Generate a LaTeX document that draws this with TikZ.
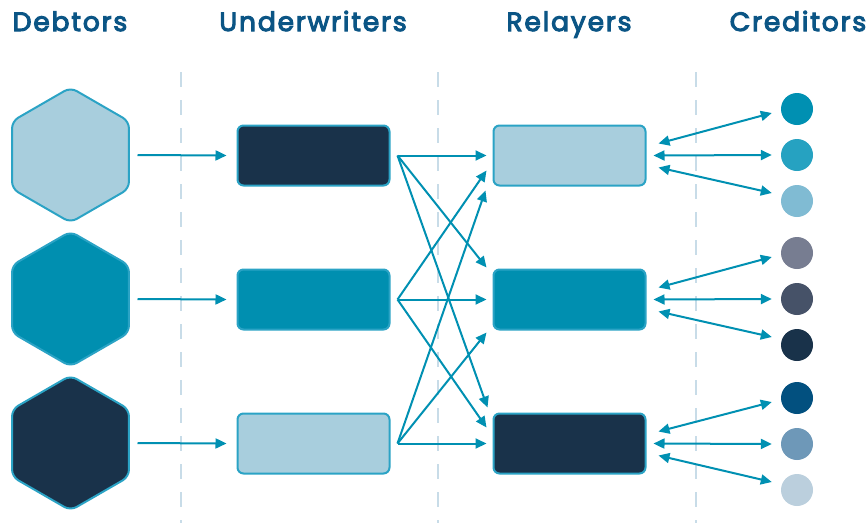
\documentclass[tikz,border=0pt]{standalone}
\usepackage{fontspec}
\setmainfont{Fira Sans}
\newfontfamily\titlefont{Poppins}[FakeBold=4,LetterSpace=7]
\usetikzlibrary{shapes.geometric,arrows.meta,calc}
\definecolor{clight}{HTML}{A8CEDD}
\definecolor{cmid}{HTML}{008FB0}
\definecolor{cdark}{HTML}{19324A}
\definecolor{cborder}{HTML}{2BA3C5}
\definecolor{carrow}{HTML}{0090B2}
\definecolor{cdash}{HTML}{C8DCE8}
\definecolor{ctitle}{HTML}{0B5585}
\definecolor{ca1}{HTML}{0090B2}
\definecolor{ca2}{HTML}{26A2C1}
\definecolor{ca3}{HTML}{80BBD3}
\definecolor{cb1}{HTML}{777D91}
\definecolor{cb2}{HTML}{465268}
\definecolor{cb3}{HTML}{19324A}
\definecolor{cc1}{HTML}{02507F}
\definecolor{cc2}{HTML}{6E98B8}
\definecolor{cc3}{HTML}{BBCFDD}
\begin{document}
\begin{tikzpicture}[x=1pt,y=-1pt,
  title/.style={text=ctitle,font=\titlefont\fontsize{26.5}{30}\selectfont,anchor=base,inner sep=0pt},
  hexnode/.style={regular polygon,regular polygon sides=6,shape border rotate=30,minimum size=135pt,inner sep=0pt,draw=cborder,line width=2pt,rounded corners=7pt},
  boxnode/.style={rectangle,minimum width=152pt,minimum height=60pt,inner sep=0pt,draw=cborder,line width=2pt,rounded corners=6pt},
  dot/.style={circle,minimum size=32pt,inner sep=0pt},
  sepline/.style={draw=cdash,line width=2.5pt,dash pattern=on 15pt off 13pt},
  conn/.style={draw=carrow,line width=2pt,-{Triangle[length=11pt,width=10pt]}},
  dconn/.style={draw=carrow,line width=2pt,{Triangle[length=11pt,width=10pt]}-{Triangle[length=11pt,width=10pt]}}
]
\useasboundingbox (0,0) rectangle (867,523);
% titles
\node[title] (t1) at (70,31) {Debtors};
\node[title] (t2) at (313,31) {Underwriters};
\node[title] (t3) at (569,31) {Relayers};
\node[title] (t4) at (798,31) {Creditors};
% separators
\coordinate (s1a) at (181,72); \coordinate (s1b) at (181,523);
\coordinate (s2a) at (438,72); \coordinate (s2b) at (438,523);
\coordinate (s3a) at (696,72); \coordinate (s3b) at (696,523);
\path[sepline] (s1a) -- (s1b);
\path[sepline] (s2a) -- (s2b);
\path[sepline] (s3a) -- (s3b);
% debtors
\node[hexnode,fill=clight] (h1) at (70.5,155) {};
\node[hexnode,fill=cmid] (h2) at (70.5,299) {};
\node[hexnode,fill=cdark] (h3) at (70.5,443) {};
% underwriters
\node[boxnode,fill=cdark] (u1) at (313.5,155.5) {};
\node[boxnode,fill=cmid] (u2) at (313.5,299.5) {};
\node[boxnode,fill=clight] (u3) at (313.5,443.5) {};
% relayers
\node[boxnode,fill=clight] (r1) at (569.5,155.5) {};
\node[boxnode,fill=cmid] (r2) at (569.5,299.5) {};
\node[boxnode,fill=cdark] (r3) at (569.5,443.5) {};
% creditors
\node[dot,fill=ca1] (c11) at (797,109) {};
\node[dot,fill=ca2] (c12) at (797,155) {};
\node[dot,fill=ca3] (c13) at (797,201) {};
\node[dot,fill=cb1] (c21) at (797,253) {};
\node[dot,fill=cb2] (c22) at (797,299) {};
\node[dot,fill=cb3] (c23) at (797,345) {};
\node[dot,fill=cc1] (c31) at (797,398) {};
\node[dot,fill=cc2] (c32) at (797,444) {};
\node[dot,fill=cc3] (c33) at (797,490) {};
% debtors -> underwriters
\foreach \i in {1,2,3}{
  \path[conn] ($(h\i.center)+(67,0)$) -- ($(u\i.west)+(-10,0)$);
}
% underwriters -> relayers
\path[conn] ($(u1.east)+(7,0)$) -- ($(r1.west)+(-6,0)$);
\path[conn] ($(u1.east)+(7,0)$) -- ($(r2.west)+(-6,-32)$);
\path[conn] ($(u1.east)+(7,0)$) -- ($(r3.west)+(-5,-36)$);
\path[conn] ($(u2.east)+(7,0)$) -- ($(r1.west)+(-6,15)$);
\path[conn] ($(u2.east)+(7,0)$) -- ($(r2.west)+(-6,0)$);
\path[conn] ($(u2.east)+(7,0)$) -- ($(r3.west)+(-6,-16)$);
\path[conn] ($(u3.east)+(7,0)$) -- ($(r1.west)+(-7,35)$);
\path[conn] ($(u3.east)+(7,0)$) -- ($(r2.west)+(-6,33)$);
\path[conn] ($(u3.east)+(7,0)$) -- ($(r3.west)+(-6,0)$);
% relayers <-> creditors
\foreach \i in {1,2,3}{
  \path[dconn] ($(r\i.east)+(12,-12)$) -- ($(c\i1.west)+(-9,4)$);
  \path[dconn] ($(r\i.east)+(7,0)$) -- ($(c\i2.west)+(-9,0)$);
  \path[dconn] ($(r\i.east)+(12,12)$) -- ($(c\i3.west)+(-9,-8)$);
}
\end{tikzpicture}
\end{document}
